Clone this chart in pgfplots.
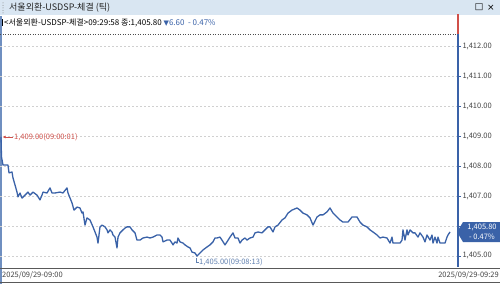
\documentclass[border=0pt]{standalone}
\usepackage{pgfplots}
\pgfplotsset{compat=1.18}
\usetikzlibrary{arrows.meta}
\usepackage{fontspec}
\setmainfont{Noto Sans CJK KR}
\newfontfamily\dejavu{DejaVu Sans}
\definecolor{lineblue}{HTML}{3A62A8}
\definecolor{titlebg}{HTML}{D9E6F2}
\definecolor{annred}{HTML}{D0504A}
\definecolor{gridgray}{HTML}{D0D0D0}
\definecolor{labgray}{HTML}{444444}
\definecolor{minblue}{HTML}{6080B0}
\definecolor{edgeblue}{HTML}{6F8FC0}
\begin{document}
\begin{tikzpicture}[x=1pt,y=1pt]
\path[use as bounding box] (0,0) rectangle (500,284);
\fill[white] (0,0) rectangle (500,284);
% title bar
\fill[titlebg] (0,269) rectangle (500,284);
\foreach \yy in {271,273.5,...,282} {\fill[gray] (3,\yy) circle (0.5);}
\node[anchor=west, inner sep=0pt, font=\fontsize{9}{10}\selectfont, text=black!85] at (9,276.5) {서울외환-USDSP-체결 (틱)};
\node[anchor=center, inner sep=0pt, font=\dejavu\fontsize{9}{10}\selectfont] at (479,276.5) {□};
\node[anchor=center, inner sep=0pt, font=\dejavu\fontsize{9}{10}\selectfont] at (491,276.5) {×};
% info line
\fill[black] (1,258) rectangle (2.8,265);
\node[anchor=west, inner sep=0pt, font=\fontsize{8}{9}\selectfont] at (4,261) {<서울외환-USDSP-체결>09:29:58 종:1,405.80 \textcolor{lineblue}{{\dejavu\fontsize{7}{8}\selectfont ▼}6.60\ \ - 0.47\%}};
% left edge
\draw[edgeblue, line width=1.6pt] (1,0) -- (1,268);
% bottom lines and dates
\draw[black!65, line width=0.8pt] (0,16) -- (500,16);
\draw[black!65, line width=0.8pt] (0,2) -- (500,2);
\node[anchor=west, inner sep=0pt, font=\fontsize{7.5}{8}\selectfont, text=labgray] at (2,9) {2025/09/29-09:00};
\node[anchor=east, inner sep=0pt, font=\fontsize{7.5}{8}\selectfont, text=labgray] at (499,9) {2025/09/29-09:29};
\begin{axis}[
  at={(0pt,270pt)}, anchor=north west, scale only axis,
  width=458pt, height=253pt,
  xmin=0, xmax=458, ymin=1404.633, ymax=1413.067,
  clip=false,
  axis line style={draw=none},
  xtick=\empty,
  ytick={1405,1407,1408,...,1412},
  extra y ticks={1406},
  extra y tick labels={},
  extra tick style={ymajorgrids},
  minor y tick num=4,
  ytick pos=right, yticklabel pos=right,
  tick align=outside,
  major tick length=3pt, minor tick length=2pt,
  tick style={lineblue, line width=0.6pt},
  ymajorgrids,
  major grid style={gridgray, dash pattern=on 2pt off 2pt, line width=0.5pt},
  /pgf/number format/assume math mode=true,
  yticklabel={\pgfmathprintnumber[fixed,fixed zerofill,precision=2,1000 sep={,}]{\tick}},
  yticklabel style={font=\fontsize{7.5}{8}\selectfont, text=labgray, xshift=-2pt},
]
\draw[black!70, line width=0.9pt, dash pattern=on 1pt off 1.5pt] (axis cs:0,1412.4) -- (axis cs:458,1412.4);
\addplot[lineblue, line width=1.3pt, mark=none, line join=round] coordinates {
(1,1409.00) (1.5,1408.30) (3,1408.03) (8,1408.03) (9,1407.77) (12,1407.80) (13,1407.60) (15,1407.37)
(17,1407.13) (18,1406.97) (20,1407.10) (22,1406.93) (25,1407.03) (28,1407.13) (30,1407.03) (33,1407.13)
(37,1407.03) (40,1406.87) (42,1407.03) (43,1407.13) (47,1407.10) (50,1407.27) (52,1407.10) (55,1407.10)
(60,1407.13) (63,1407.10) (67,1407.27) (68,1407.10) (72,1406.77) (74,1406.53) (77,1406.63) (80,1406.60)
(82,1406.43) (83,1406.47) (85,1406.03) (87,1406.27) (90,1406.20) (93,1405.97) (97,1405.63) (98,1405.43)
(100,1405.97) (102,1406.03) (105,1405.97) (107,1405.87) (108,1405.77) (110,1405.87) (112,1405.80) (113,1405.70)
(115,1405.63) (117,1405.27) (118,1405.63) (120,1405.77) (123,1405.87) (125,1405.93) (127,1405.97) (130,1405.97)
(132,1405.87) (135,1405.77) (137,1405.53) (140,1405.53) (143,1405.60) (147,1405.63) (150,1405.60) (153,1405.63)
(157,1405.70) (160,1405.70) (162,1405.63) (163,1405.47) (167,1405.53) (170,1405.53) (172,1405.43) (173,1405.37)
(175,1405.47) (177,1405.43) (178,1405.60) (180,1405.47) (183,1405.43) (185,1405.37) (188,1405.30) (190,1405.27)
(192,1405.13) (195,1405.10) (197,1405.00) (200,1405.10) (203,1405.20) (207,1405.30) (210,1405.37) (213,1405.47)
(215,1405.60) (217,1405.60) (220,1405.63) (222,1405.53) (225,1405.37) (227,1405.47) (230,1405.63) (233,1405.77)
(235,1405.60) (238,1405.60) (240,1405.43) (242,1405.53) (245,1405.60) (247,1405.53) (250,1405.60) (253,1405.63)
(255,1405.77) (258,1405.80) (262,1405.77) (265,1405.87) (268,1405.97) (270,1405.97) (273,1405.80) (275,1405.97)
(278,1406.03) (282,1406.20) (285,1406.27) (288,1406.43) (292,1406.53) (297,1406.60) (300,1406.53) (303,1406.43)
(307,1406.37) (310,1406.27) (313,1406.03) (317,1406.30) (320,1406.37) (323,1406.37) (327,1406.47) (330,1406.60)
(333,1406.43) (337,1406.30) (340,1406.20) (343,1406.13) (348,1406.13) (352,1406.30) (357,1406.30) (360,1406.13)
(363,1406.03) (367,1405.97) (370,1405.87) (373,1405.80) (377,1405.70) (380,1405.60) (383,1405.63) (387,1405.60)
(390,1405.43) (392,1405.63) (393,1405.43) (397,1405.43) (400,1405.43) (402,1405.53) (403,1405.87) (405,1405.53)
(407,1405.87) (408,1405.70) (410,1405.87) (413,1405.77) (415,1405.77) (418,1405.63) (420,1405.77) (423,1405.63)
(425,1405.47) (427,1405.70) (430,1405.53) (432,1405.70) (433,1405.43) (435,1405.63) (437,1405.43) (438,1405.63)
(440,1405.43) (442,1405.43) (445,1405.43) (447,1405.63) (448,1405.70) (450,1405.80)
};
% right axis line
\draw[lineblue, line width=1.3pt] (axis cs:458,1404.633) -- (axis cs:458,1412.4);
\draw[annred, line width=1.3pt] (axis cs:458,1412.4) -- (axis cs:458,1413.067);
\end{axis}
% annotations
\draw[annred, line width=0.6pt, -{Latex[length=3pt,width=3pt]}] (13,147) -- (2.5,147);
\node[anchor=west, inner sep=0pt, font=\fontsize{7.5}{8}\selectfont, text=annred] at (14,147) {1,409.00(09:00:01)};
\draw[minblue, line width=0.6pt] (196,26) -- (196,21.5) -- (199,21.5);
\node[anchor=west, inner sep=0pt, font=\fontsize{7.5}{8}\selectfont, text=minblue] at (199,22) {1,405.00(09:08:13)};
% price box
\fill[lineblue] (457,52) -- (463,62) -- (500,62) -- (500,42) -- (463,42) -- cycle;
\node[anchor=center, inner sep=0pt, font=\fontsize{7.5}{8}\selectfont, text=white] at (482,57) {1,405.80};
\node[anchor=center, inner sep=0pt, font=\fontsize{7.5}{8}\selectfont, text=white] at (482,47) {- 0.47\%};
\end{tikzpicture}
\end{document}
